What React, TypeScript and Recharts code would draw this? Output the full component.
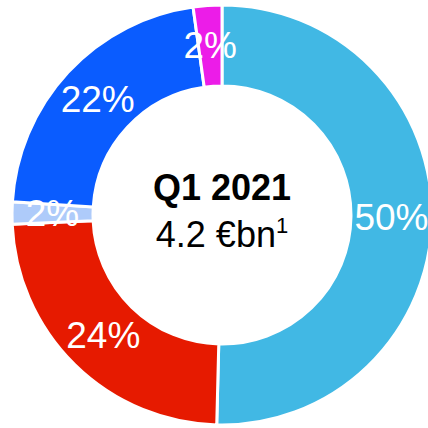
import { PieChart, Pie, Cell } from 'recharts';

// Anteile Q1 2021 (im Uhrzeigersinn ab 12 Uhr), Werte aus dem Bild geschätzt
const segments = ['Segment A', 'Segment B', 'Segment C', 'Segment D', 'Segment E'];
const shares = [50.4, 23.9, 1.7, 21.8, 2.2];
const colors = ['#41b8e4', '#e61a00', '#aecbfa', '#0a5cff', '#ec1ce8'];

const title = 'Q1 2021';
const total = '4.2 €bn';
const footnote = '1';

const data = segments.map((name, i) => ({ name, value: shares[i] }));

const RAD = Math.PI / 180;
const FONT = "'Liberation Sans', Arial, sans-serif";
const CX = 222;
const CY = 215;

// Prozentlabel mittig im Ring
const renderLabel = (props: any) => {
  const { cx, cy, midAngle, innerRadius, outerRadius, value } = props;
  const r = (innerRadius + outerRadius) / 2;
  const x = cx + r * Math.cos(-midAngle * RAD);
  const y = cy + r * Math.sin(-midAngle * RAD);
  return (
    <text
      x={x}
      y={y}
      fill="#ffffff"
      textAnchor="middle"
      dominantBaseline="central"
      fontSize={37}
      fontFamily={FONT}
    >
      {`${Math.round(value)}%`}
    </text>
  );
};

export default function App() {
  return (
    <div style={{ position: 'absolute', left: 0, top: 0, width: 428, height: 428, overflow: 'hidden' }}>
      <PieChart width={428} height={428} margin={{ top: 0, right: 0, bottom: 0, left: 0 }}>
        <Pie
          data={data}
          dataKey="value"
          cx={CX}
          cy={CY}
          innerRadius={129}
          outerRadius={210}
          startAngle={90}
          endAngle={-270}
          stroke="#ffffff"
          strokeWidth={3}
          label={renderLabel}
          labelLine={false}
          isAnimationActive={false}
        >
          {data.map((d, i) => (
            <Cell key={d.name} fill={colors[i]} />
          ))}
        </Pie>
      </PieChart>
      {/* Beschriftung in der Mitte */}
      <svg
        width={428}
        height={428}
        style={{ position: 'absolute', left: 0, top: 0, pointerEvents: 'none' }}
      >
        <g fontFamily={FONT} fill="#000000">
          <text x={CX} y={CY - 15} textAnchor="middle" fontSize={36} fontWeight="bold">
            {title}
          </text>
          <text x={CX} y={CY + 32} textAnchor="middle" fontSize={36}>
            {total}
            <tspan fontSize={22} dy={-14}>{footnote}</tspan>
          </text>
        </g>
      </svg>
    </div>
  );
}
